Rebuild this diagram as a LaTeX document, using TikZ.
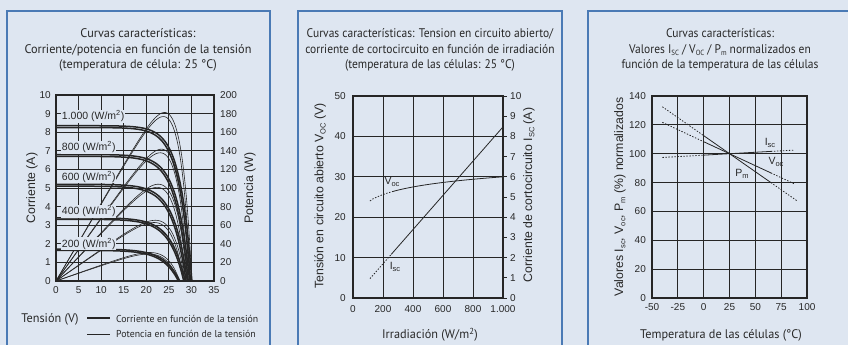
\documentclass[tikz,border=0pt]{standalone}
\usepackage{fontspec}
\setmainfont{Liberation Sans}
\newfontfamily\ttl[FakeStretch=0.98]{PT Sans}
\newfontfamily\ttlb[FakeStretch=0.92]{PT Sans}
\definecolor{bg}{RGB}{222,230,241}
\definecolor{frm}{RGB}{74,122,181}
\definecolor{ink}{RGB}{40,40,40}
\newcommand\sbs[1]{\raisebox{-0.35ex}{\fontsize{7.5}{7.5}\selectfont #1}}
\begin{document}
\begin{tikzpicture}[x=1pt,y=-1pt,
  panel/.style={draw=frm, line width=1.1pt},
  ttlnode/.style={align=center, font=\ttl\fontsize{12.5}{15.5}\selectfont, text=ink, inner sep=0pt},
  ttlnodeb/.style={align=center, font=\ttlb\fontsize{12.5}{15.5}\selectfont, text=ink, inner sep=0pt},
  legtxt/.style={anchor=west, font=\ttl\fontsize{10}{12}\selectfont, text=ink, inner sep=0pt},
  ticklab/.style={font=\fontsize{10}{11}\selectfont, inner sep=0pt, text=ink},
  axlab/.style={font=\fontsize{12.3}{14}\selectfont, rotate=90, inner sep=0pt, text=ink},
  curvelab/.style={font=\fontsize{10.5}{11}\selectfont, inner sep=0.8pt, text=ink},
  grd/.style={line width=0.9pt, draw=black!85},
  plotframe/.style={line width=1.4pt, draw=black!85},
  icurve/.style={line width=1.5pt, draw=black!85},
  pcurve/.style={line width=0.6pt, draw=black!85},
  dsh/.style={dash pattern=on 1.4pt off 1.6pt},
  lin/.style={line width=0.8pt, draw=black!85},
]
\useasboundingbox (0,0) rectangle (848,345);
\fill[bg] (0,0) rectangle (848,345);
\draw[panel] (7,11) rectangle (270,360);
\draw[panel] (298,11) rectangle (562,360);
\draw[panel] (588,11) rectangle (852,360);

% ---------------- Panel 1 ----------------
\node[ttlnode] (t1) at (138,50) {Curvas características:\\Corriente/potencia en función de la tensión\\(temperatura de célula: 25 °C)};
\begin{scope}[shift={(56,281)}, x=4.514pt, y=18.6pt]
  \foreach \v in {5,10,...,30} \draw[grd] (\v,0) -- (\v,10);
  \foreach \a in {1,...,9} \draw[grd] (0,\a) -- (35,\a);
  \foreach \isc/\voc/\k in {8.35/30.1/2.6, 8.25/29.8/2.6, 6.8/29.6/2.8, 6.7/29.3/2.8, 5.2/29.1/3.0, 5.1/28.8/3.0, 3.4/28.6/3.2, 3.32/28.3/3.2, 1.72/27.4/3.4, 1.65/27.1/3.4}{
    \draw[icurve] plot[domain=0:\voc, samples=120] (\x, {\isc*(1-exp((\x-\voc)/\k))});
    \draw[pcurve] plot[domain=0:\voc, samples=120] (\x, {\x*\isc*(1-exp((\x-\voc)/\k))/20});
  }
  \draw[plotframe] (0,0) rectangle (35,10);
  \foreach \a in {0,...,10} \node[ticklab, anchor=east] (l1\a) at ([xshift=-5pt]0,\a) {\a};
  \foreach \a [evaluate=\a as \w using int(\a*20)] in {0,...,10} \node[ticklab, anchor=west] (r1\a) at ([xshift=6pt]35,\a) {\w};
  \foreach \v in {0,5,...,35} \node[ticklab] (b1\v) at ([yshift=-9pt]\v,0) {\v};
  \node[curvelab, anchor=west, fill=bg] (g1000) at (1.1,8.85) {1.000 (W/m\textsuperscript{2})};
  \node[curvelab, anchor=west, fill=bg] (g800) at (1.1,7.2) {800 (W/m\textsuperscript{2})};
  \node[curvelab, anchor=west, fill=bg] (g600) at (1.1,5.6) {600 (W/m\textsuperscript{2})};
  \node[curvelab, anchor=west, fill=bg] (g400) at (1.1,3.75) {400 (W/m\textsuperscript{2})};
  \node[curvelab, anchor=west, fill=bg] (g200) at (1.1,2.0) {200 (W/m\textsuperscript{2})};
\end{scope}
\node[axlab] (y1) at (32,188) {Corriente (A)};
\node[axlab] (y1r) at (250,188) {Potencia (W)};
\node[ttlnode] (leg0) at (50,319) {Tensión (V)};
\coordinate (la1) at (87,318); \coordinate (la2) at (110,318);
\coordinate (lb1) at (87,334); \coordinate (lb2) at (110,334);
\draw[line width=2pt, black!85] (la1) -- (la2);
\draw[line width=0.9pt, black!85] (lb1) -- (lb2);
\node[legtxt] (leg1) at (116,319) {Corriente en función de la tensión};
\node[legtxt] (leg2) at (116,334) {Potencia en función de la tensión};

% ---------------- Panel 2 ----------------
\node[ttlnodeb] (t2) at (430,50) {Curvas características: Tension en circuito abierto/\\corriente de cortocircuito en función de irradiación\\(temperatura de las células: 25 °C)};
\begin{scope}[shift={(353,298)}, x=0.15pt, y=4.04pt]
  \foreach \g in {200,400,600,800} \draw[grd] (\g,0) -- (\g,50);
  \foreach \v in {10,20,30,40} \draw[grd] (0,\v) -- (1000,\v);
  \draw[plotframe] (0,0) rectangle (1000,50);
  \foreach \a in {0,...,10} \draw[lin] (1000,{\a*5}) -- +(4pt,0);
  \foreach \v in {0,10,...,50} \node[ticklab, anchor=east] (l2\v) at ([xshift=-7pt]0,\v) {\v};
  \foreach \a in {0,...,10} \node[ticklab, anchor=west] (r2\a) at ([xshift=7pt]1000,{\a*5}) {\a};
  \foreach \g/\t in {0/0,200/200,400/400,600/600,800/800,1000/1.000} \node[ticklab] (b2\g) at ([yshift=-11pt]\g,0) {\t};
  \draw[lin, dsh] plot[domain=113:267, samples=20] (\x, {30+2.74*ln(\x/1000)});
  \draw[lin] plot[domain=267:1000, samples=40] (\x, {30+2.74*ln(\x/1000)});
  \coordinate (i0) at (113, 4.79);
  \coordinate (i1) at (255, 10.8);
  \coordinate (i2) at (1000, 42.35);
  \draw[lin, dsh] (i0) -- (i1);
  \draw[lin] (i1) -- (i2);
\end{scope}
\node[curvelab] (voc2) at (392,182) {V\sbs{oc}};
\node[curvelab] (isc2) at (395,267) {I\sbs{sc}};
\node[axlab] (y2) at (320,196) {Tensión en circuito abierto V\sbs{OC} (V)};
\node[axlab] (y2r) at (529,195) {Corriente de cortocircuito I\sbs{SC} (A)};
\node[ttlnode] (x2) at (430,335) {Irradiación (W/m\textsuperscript{2})};

% ---------------- Panel 3 ----------------
\node[ttlnodeb] (t3) at (720,50) {Curvas características:\\Valores I\sbs{SC} / V\sbs{OC} / P\sbs{m} normalizados en\\función de la temperatura de las células};
\begin{scope}[shift={(703.7,298)}, x=1.0333pt, y=1.443pt]
  \foreach \t in {-25,0,25,50,75} \draw[grd] (\t,0) -- (\t,140);
  \foreach \v in {20,40,...,120} \draw[grd] (-50,\v) -- (100,\v);
  \draw[plotframe] (-50,0) rectangle (100,140);
  \foreach \v in {0,20,...,140} \node[ticklab, anchor=east] (l3\v) at ([xshift=-6pt]-50,\v) {\v};
  \foreach \t in {-50,-25,0,25,50,75,100} \node[ticklab] (b3\t) at ([yshift=-9pt]\t,0) {\t};
  % Pm
  \draw[lin, dsh] (-40,132.5) -- (0,112.5);
  \draw[lin] (0,112.5) -- (65,80);
  \draw[lin, dsh] (65,80) -- (90,67.5);
  % Voc
  \draw[lin, dsh] (-40,121.7) -- (0,108.3);
  \draw[lin] (0,108.3) -- (65,86.7);
  \draw[lin, dsh] (65,86.7) -- (88,79);
  % Isc
  \draw[lin, dsh] (-40,97.4) -- (0,99);
  \draw[lin] (0,99) -- (65,101.6);
  \draw[lin, dsh] (65,101.6) -- (88,102.5);
\end{scope}
\node[curvelab] (isc3) at (770,143) {I\sbs{sc}};
\node[curvelab] (voc3) at (776,162) {V\sbs{oc}};
\node[curvelab] (pm3) at (742,174) {P\sbs{m}};
\node[axlab] (y3) at (620,197) {Valores I\sbs{sc}, V\sbs{oc}, P\sbs{m} (\%) normalizados};
\node[ttlnode] (x3) at (721,335) {Temperatura de las células (°C)};
\end{tikzpicture}
\end{document}
